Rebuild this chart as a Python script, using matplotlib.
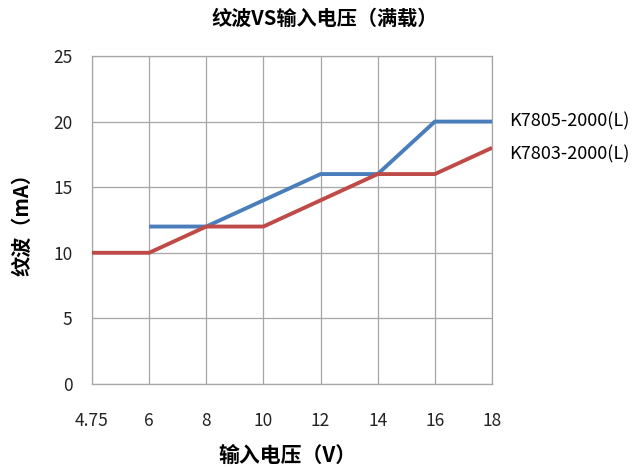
import matplotlib
matplotlib.use("Agg")
import matplotlib.pyplot as plt
import numpy as np

plt.rcParams['font.family'] = ['Noto Sans CJK SC', 'DejaVu Sans']

voltage = ["4.75", "6", "8", "10", "12", "14", "16", "18"]
k7805 = [np.nan, 12, 12, 14, 16, 16, 20, 20]
k7803 = [10, 10, 12, 12, 14, 16, 16, 18]
names = ["K7805-2000(L)", "K7803-2000(L)"]
colors = ["#4A7EBB", "#BE4B48"]

fig = plt.figure(figsize=(6.37, 4.68), dpi=100)
ax = fig.add_axes([0.1444, 0.1795, 0.628, 0.7009])

x = np.arange(len(voltage))
ax.plot(x, k7805, color=colors[0], lw=2.8, solid_capstyle='butt', zorder=3)
ax.plot(x, k7803, color=colors[1], lw=2.8, solid_capstyle='butt', zorder=3)

ax.set_xlim(0, len(voltage) - 1)
ax.set_ylim(0, 25)
ax.set_xticks(x)
ax.set_xticklabels(voltage)
ax.set_yticks(range(0, 26, 5))
ax.grid(True, color="#A6A6A6", lw=0.9)
ax.set_axisbelow(True)
for s in ax.spines.values():
    s.set_color("#A6A6A6")
    s.set_linewidth(0.9)
ax.tick_params(length=0, labelsize=12.5, colors="#222222")
ax.tick_params(axis='x', pad=20)
ax.tick_params(axis='y', pad=14)

# series labels to the right of the last points
ax.annotate(names[0], xy=(x[-1], k7805[-1]), xytext=(12, 0), textcoords='offset points',
            va='center', ha='left', fontsize=13, annotation_clip=False)
ax.annotate(names[1], xy=(x[-1], k7803[-1]), xytext=(12, -5), textcoords='offset points',
            va='center', ha='left', fontsize=13, annotation_clip=False)

fig.text(0.51, 0.962, "纹波VS输入电压（满载）", ha='center', va='center',
         fontsize=14.5, fontweight='bold')
fig.text(0.452, 0.028, "输入电压（V）", ha='center', va='center',
         fontsize=15, fontweight='bold')
fig.text(0.035, 0.53, "纹波（mA）", ha='center', va='center', rotation=90,
         fontsize=14.5, fontweight='bold')

fig.savefig("out.png", dpi=100)
